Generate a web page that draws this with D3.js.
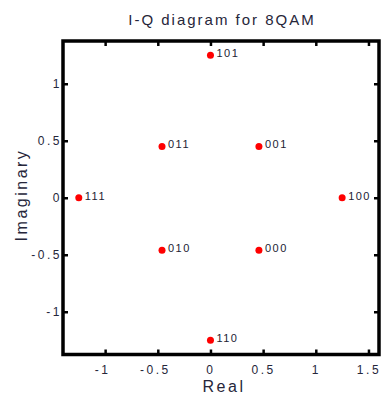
<!DOCTYPE html>
<html><head><meta charset="utf-8">
<script src="https://cdn.jsdelivr.net/npm/d3@7"></script>
<style>body{margin:0;background:#fff}svg{display:block}</style>
</head><body><svg id="c" width="381" height="394"></svg>
<script>
const symbols = ["101","011","001","111","100","010","000","110"];
const realVals = [0, -0.46, 0.46, -1.25, 1.25, -0.46, 0.46, 0];
const imagVals = [1.25, 0.45, 0.45, 0, 0, -0.46, -0.46, -1.25];
const xTicks = [-1, -0.5, 0, 0.5, 1, 1.5];
const yTicks = [-1, -0.5, 0, 0.5, 1];

const svg = d3.select("#c");
const L = 63, R = 379, T = 41, B = 354.5;
const x = d3.scaleLinear().domain([-1.4, 1.6]).range([L, R]);
const y = d3.scaleLinear().domain([-1.375, 1.375]).range([B, T]);
const fmt = d => String(d);
const FONT = "Arial, 'Liberation Sans', sans-serif";
const textColor = "#26263a";

const g = svg.append("g");
const ax = (axis, tr) => {
  const a = g.append("g").attr("transform", tr).call(axis);
  a.select(".domain").remove();
  a.selectAll(".tick line").attr("stroke", "#000").attr("stroke-width", 2.5);
  a.selectAll(".tick text").attr("fill", textColor).style("font-family", FONT)
    .style("font-size", "12px").style("letter-spacing", "2.5px");
  return a;
};
const xa = ax(d3.axisBottom(x).tickValues(xTicks).tickSize(-5).tickPadding(11).tickFormat(fmt), `translate(0,${B})`);
xa.selectAll(".tick text").attr("dx", d => d < 0 ? -3 : 0);
ax(d3.axisTop(x).tickValues(xTicks).tickSize(-5).tickFormat(""), `translate(0,${T})`);
ax(d3.axisLeft(y).tickValues(yTicks).tickSize(-5).tickPadding(1).tickFormat(fmt), `translate(${L},0)`);
ax(d3.axisRight(y).tickValues(yTicks).tickSize(-5).tickFormat(""), `translate(${R},0)`);

g.append("rect").attr("x", L).attr("y", T).attr("width", R - L).attr("height", B - T)
  .attr("fill", "none").attr("stroke", "#000").attr("stroke-width", 3.5);

const pts = g.append("g");
symbols.forEach((s, i) => {
  pts.append("circle").attr("cx", x(realVals[i])).attr("cy", y(imagVals[i])).attr("r", 3.5).attr("fill", "#ff0000");
  pts.append("text").attr("x", x(realVals[i]) + 6).attr("y", y(imagVals[i]) + 2)
    .attr("fill", "#222233").style("font-family", FONT)
    .style("font-size", "11px").style("letter-spacing", "1.5px").text(s);
});

svg.append("text").attr("x", (L + R) / 2 + 1).attr("y", 25).attr("text-anchor", "middle")
  .attr("fill", textColor).style("font-family", FONT)
  .style("font-size", "15px").style("letter-spacing", "2px").text("I-Q diagram for 8QAM");
svg.append("text").attr("x", 224).attr("y", 392).attr("text-anchor", "middle")
  .attr("fill", textColor).style("font-family", FONT)
  .style("font-size", "16px").style("letter-spacing", "2.5px").text("Real");
svg.append("text").attr("transform", `translate(27,195) rotate(-90)`).attr("text-anchor", "middle")
  .attr("fill", textColor).style("font-family", FONT)
  .style("font-size", "16px").style("letter-spacing", "2.5px").text("Imaginary");
</script></body></html>
